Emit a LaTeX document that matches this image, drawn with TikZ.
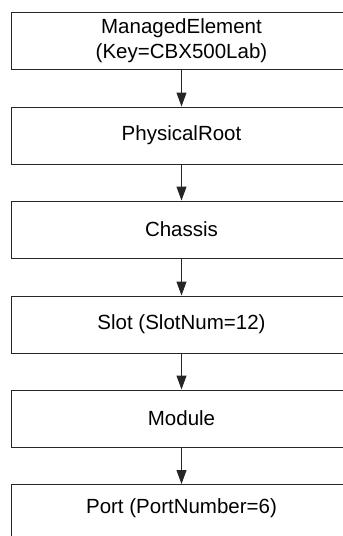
\documentclass[tikz,border=0pt]{standalone}
\usepackage{fontspec}
\setmainfont{Liberation Sans}
\usetikzlibrary{arrows.meta}
\begin{document}
\begin{tikzpicture}[x=1pt,y=-1pt,
  classbox/.style={draw=black!85, line width=1pt, fill=white,
    minimum width=341pt, minimum height=57pt, inner sep=0pt,
    align=center, font=\fontsize{20.5}{24.5}\selectfont},
  link/.style={draw=black!85, line width=1pt,
    -{Triangle[length=14pt,width=10pt]}}]
  \useasboundingbox (0,0) rectangle (343,536);
  \clip (0,0) rectangle (343,536);
  % containment chain, one box per level
  \node[classbox] (me)   at (181.5, 40.5)  {ManagedElement\\(Key=CBX500Lab)};
  \node[classbox] (root) at (181.5, 135.5) {PhysicalRoot};
  \node[classbox] (ch)   at (181.5, 229.5) {Chassis};
  \node[classbox] (slot) at (181.5, 324.5) {Slot (SlotNum=12)};
  \node[classbox] (mod)  at (181.5, 418.5) {Module};
  % last box runs past the lower edge; its text sits on the centre line
  \node[classbox, minimum height=58pt, anchor=north] (port) at (181.5, 484)
    {\raisebox{0pt}[0pt][0pt]{Port (PortNumber=6)}};
  % arrows between levels
  \draw[link] (me.south)   -- (root.north);
  \draw[link] (root.south) -- (ch.north);
  \draw[link] (ch.south)   -- (slot.north);
  \draw[link] (slot.south) -- (mod.north);
  \draw[link] (mod.south)  -- (port.north);
\end{tikzpicture}
\end{document}
